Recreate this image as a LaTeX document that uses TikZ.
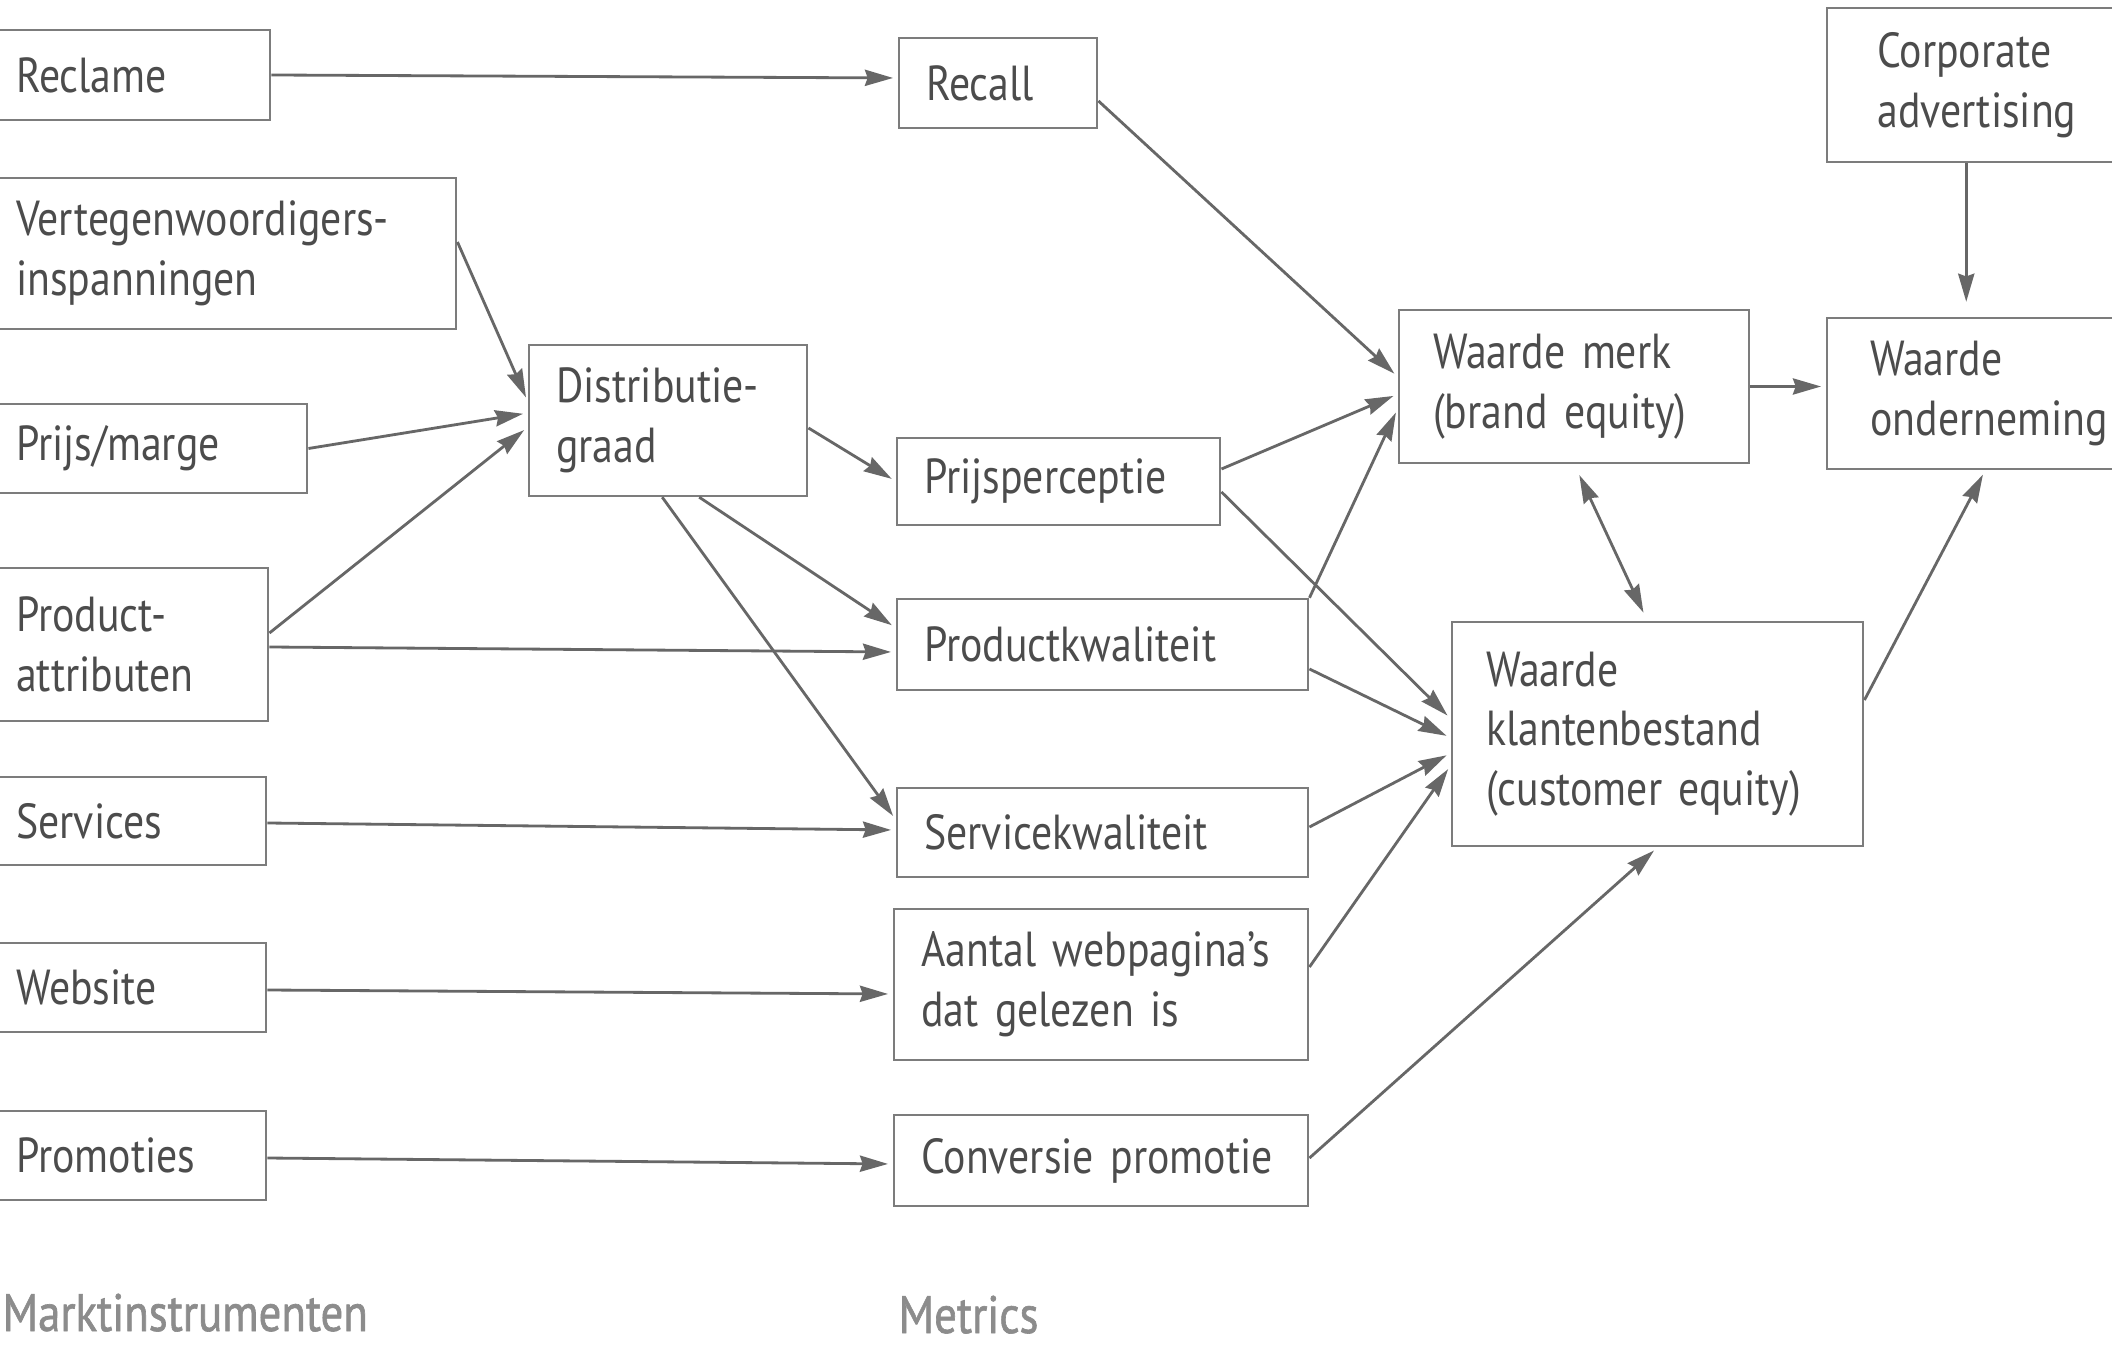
\documentclass[tikz,border=0pt]{standalone}
\usepackage{fontspec}
\setmainfont[FakeStretch=0.85]{PT Sans}
\newfontfamily\capfont[FakeStretch=0.85,FakeBold=1.2]{PT Sans}
\usepackage{tikz}
\usetikzlibrary{arrows.meta}
\definecolor{boxline}{HTML}{7C7C7C}
\definecolor{arrline}{HTML}{676767}
\definecolor{boxtext}{HTML}{4C4C4C}
\definecolor{captext}{HTML}{8C8C8C}

\begin{document}
\begin{tikzpicture}[x=0.1mm, y=-0.1mm,
  box/.style={draw=boxline, line width=0.7pt, anchor=west, align=left,
    text=boxtext, inner xsep=2.7mm, inner ysep=0pt,
    font=\fontsize{14}{17}\selectfont},
  caption/.style={anchor=base west, inner sep=0pt, text=captext,
    font=\capfont\fontsize{15}{17}\selectfont},
  >={Stealth[length=8pt,width=4.6pt,inset=0.8pt]}
]
\useasboundingbox (0,0) rectangle (2112,1348);
\clip (0,0) rectangle (2112,1348);
\fill[white] (0,0) rectangle (2112,1348);

% marktinstrumenten
\node[box, text width=22.7mm, minimum height=9mm]   (recl)     at (-12,75)     {Reclame};
\node[box, text width=41.3mm, minimum height=15.1mm] (vert)    at (-12,253.5)  {Vertegenwoordigers-\\inspanningen};
\node[box, text width=26.4mm, minimum height=8.9mm]  (prijs)   at (-12,448.5)  {Prijs/marge};
\node[box, text width=22.5mm, minimum height=15.3mm] (prodattr) at (-12,644.5) {Product-\\attributen};
\node[box, text width=22.3mm, minimum height=8.8mm]  (serv)    at (-12,821)    {Services};
\node[box, text width=22.3mm, minimum height=8.9mm]  (web)     at (-12,987.5)  {Website};
\node[box, text width=22.3mm, minimum height=8.9mm]  (promo)   at (-12,1155.5) {Promoties};

% metrics
\node[box, text width=22.4mm, minimum height=15.1mm] (distr)  at (528,420.5)  {Distributie-\\graad};
\node[box, text width=14.4mm, minimum height=9mm]    (recall) at (898,83)     {Recall};
\node[box, text width=26.9mm, minimum height=8.7mm]  (pperc)  at (896,481.5)  {Prijsperceptie};
\node[box, text width=35.7mm, minimum height=9.1mm]  (pkw)    at (896,644.5)  {Productkwaliteit};
\node[box, text width=35.7mm, minimum height=8.9mm]  (skw)    at (896,832.5)  {Servicekwaliteit};
\node[box, text width=36mm,   minimum height=15.1mm] (aantal) at (893,984.5)  {Aantal webpagina’s\\dat gelezen is};
\node[box, text width=36mm,   minimum height=9.1mm]  (conv)   at (893,1160.5) {Conversie promotie};

% waarde
\node[box, inner xsep=3.4mm, text width=28.2mm, minimum height=15.3mm] (wmerk)  at (1398,386.5) {Waarde merk\\(brand equity)};
\node[box, inner xsep=3.4mm, text width=34.3mm, minimum height=22.4mm] (wklant) at (1451,734)   {Waarde\\klantenbestand\\(customer equity)};
\node[box, inner xsep=5mm,   text width=20mm,   minimum height=15.4mm] (corp)   at (1826,85)    {Corporate\\advertising};
\node[box, inner xsep=4.3mm, text width=23mm,   minimum height=15.1mm] (wond)   at (1826,393.5) {Waarde\\onderneming};

\node[caption] (lmarkt) at (2,1331) {Marktinstrumenten};
\node[caption] (lmetr)  at (898,1333) {Metrics};

\path[->, color=arrline, line width=0.8pt, shorten >=0.5mm]
  (recl.east) edge ([yshift=0.5mm]recall.west)
  ([yshift=1.15mm]vert.east) edge ([yshift=1.85mm]distr.west)
  (prijs.east) edge ([yshift=0.75mm]distr.west)
  ([yshift=1.15mm]prodattr.east) edge ([yshift=-0.65mm]distr.west)
  ([yshift=-0.25mm]prodattr.east) edge ([yshift=-0.75mm]pkw.west)
  ([yshift=-0.2mm]serv.east) edge ([yshift=0.25mm]skw.west)
  ([yshift=-0.25mm]web.east) edge ([yshift=-0.95mm]aantal.west)
  ([yshift=-0.25mm]promo.east) edge ([yshift=-0.35mm]conv.west)
  ([yshift=-0.75mm]distr.east) edge (pperc.west)
  ([xshift=3.1mm]distr.south) edge ([yshift=1.65mm]pkw.west)
  ([xshift=-0.6mm]distr.south) edge ([yshift=1.25mm]skw.west)
  ([yshift=-1.8mm]recall.east) edge ([yshift=0.95mm]wmerk.west)
  ([yshift=1.25mm]pperc.east) edge ([yshift=-0.75mm]wmerk.west)
  (pkw.north east) edge ([yshift=-2.15mm]wmerk.west)
  ([yshift=-1.05mm]pperc.east) edge ([yshift=1.5mm]wklant.west)
  ([yshift=-2.45mm]pkw.east) edge ([yshift=-0.4mm]wklant.west)
  ([yshift=0.55mm]skw.east) edge ([yshift=-1.9mm]wklant.west)
  ([yshift=1.75mm]aantal.east) edge ([yshift=-3.1mm]wklant.west)
  ([yshift=0.25mm]conv.east) edge (wklant.south)
  (wmerk.east) edge (wmerk.east -| wond.west)
  ([xshift=-1.1mm]corp.south) edge[shorten >=1.5mm] ([xshift=-1.1mm]corp.south |- wond.north)
  ([yshift=3.4mm]wklant.east) edge (wond.south)
;
\path[<->, color=arrline, line width=0.8pt, shorten <=1.2mm, shorten >=0.9mm]
  (wmerk.south) edge ([xshift=-1.05mm]wklant.north)
;
\end{tikzpicture}
\end{document}
